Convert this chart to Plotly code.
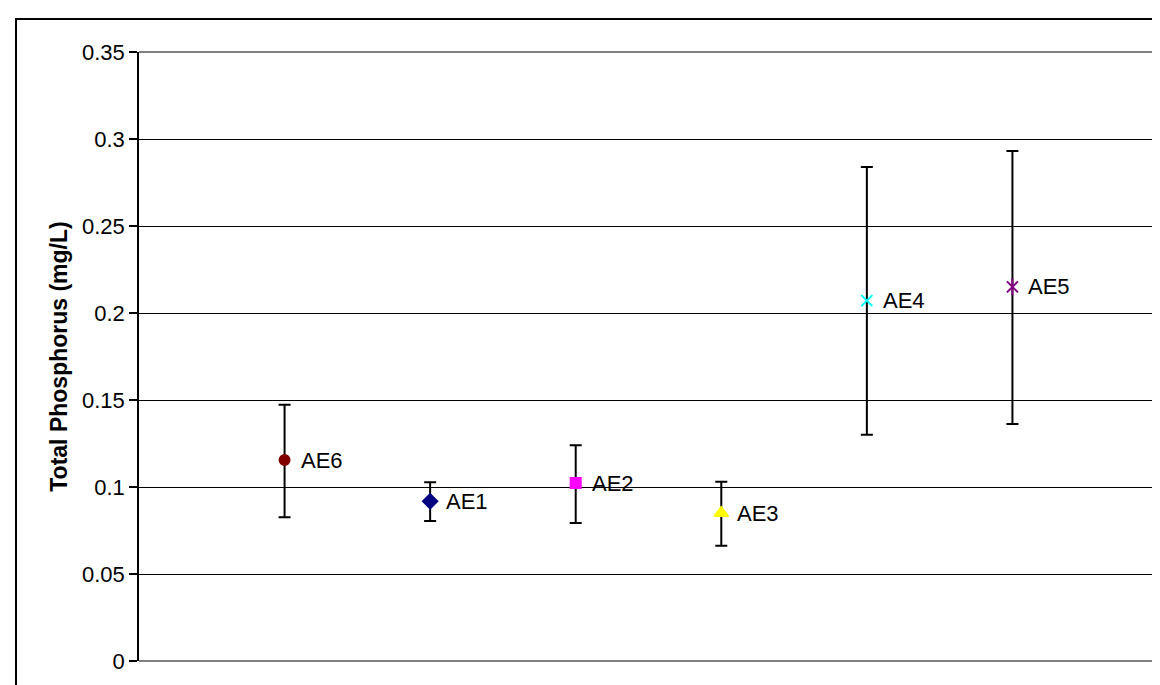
import plotly.graph_objects as go

sites = ["AE6", "AE1", "AE2", "AE3", "AE4", "AE5"]
positions = [1, 2, 3, 4, 5, 6]
tp_mean = [0.1155, 0.0918, 0.1023, 0.0850, 0.2071, 0.2150]
tp_upper = [0.1473, 0.1027, 0.1240, 0.1030, 0.2839, 0.2931]
tp_lower = [0.0826, 0.0805, 0.0793, 0.0663, 0.1300, 0.1362]
colors = ["#800000", "#000080", "#FF00FF", "#FFFF00", "#00FFFF", "#800080"]
symbols = ["circle", "diamond", "square", "triangle-up", "x-thin-open", "x-thin-open"]
sizes = [10, 11, 10, 12, 11, 11]
y_ticks = [0, 0.05, 0.1, 0.15, 0.2, 0.25, 0.3, 0.35]
y_tick_text = ["0", "0.05", "0.1", "0.15", "0.2", "0.25", "0.3", "0.35"]

FONT = "Liberation Sans, Arial, sans-serif"

fig = go.Figure()
for i, s in enumerate(sites):
    fig.add_trace(go.Scatter(
        x=[positions[i]], y=[tp_mean[i]], mode="markers", name=s,
        marker=dict(symbol=symbols[i], color=colors[i], size=sizes[i],
                    line=dict(color=colors[i], width=2)),
        error_y=dict(type="data", symmetric=False,
                     array=[tp_upper[i] - tp_mean[i]],
                     arrayminus=[tp_mean[i] - tp_lower[i]],
                     color="black", thickness=2, width=6),
        showlegend=False, hoverinfo="skip"))
    if s == "AE5":
        fig.add_trace(go.Scatter(
            x=[positions[i]], y=[tp_mean[i]], mode="markers",
            marker=dict(symbol="line-ns-open", color=colors[i], size=12,
                        line=dict(color=colors[i], width=2)),
            showlegend=False, hoverinfo="skip"))
    fig.add_annotation(x=positions[i], y=tp_mean[i], text=s, showarrow=False,
                       xanchor="left", yanchor="middle", xshift=14,
                       font=dict(family=FONT, size=22, color="black"))

# plot area border (top, right, bottom) in gray
for (x0, y0, x1, y1) in [(0, 1, 1, 1), (1, 0, 1, 1), (0, 0, 1, 0)]:
    fig.add_shape(type="line", xref="paper", yref="paper", x0=x0, y0=y0, x1=x1, y1=y1,
                  line=dict(color="#808080", width=2), layer="above")

# outer chart border
fig.add_shape(type="rect", xref="paper", yref="paper",
              x0=-0.1207, y0=-0.2, x1=1.2, y1=1.0542,
              line=dict(color="black", width=2), layer="above")

fig.update_layout(
    width=1160, height=685,
    margin=dict(l=131, r=10, t=44, b=32),
    paper_bgcolor="white", plot_bgcolor="white",
    font=dict(family=FONT, color="black"),
    xaxis=dict(range=[0, 7], showticklabels=False, ticks="", showgrid=False,
               zeroline=False, showline=False, fixedrange=True),
    yaxis=dict(range=[0, 0.35], tickvals=y_ticks, ticktext=y_tick_text,
               tickfont=dict(family=FONT, size=22, color="black"),
               ticks="outside", ticklen=8, tickcolor="black", tickwidth=1.5,
               showgrid=True, gridcolor="black", gridwidth=1,
               zeroline=False, showline=True, linecolor="black", linewidth=1.5,
               title=dict(text="<b>Total Phosphorus (mg/L)</b>",
                          font=dict(family=FONT, size=23, color="black"),
                          standoff=8)),
)

fig.write_html("out.html")
